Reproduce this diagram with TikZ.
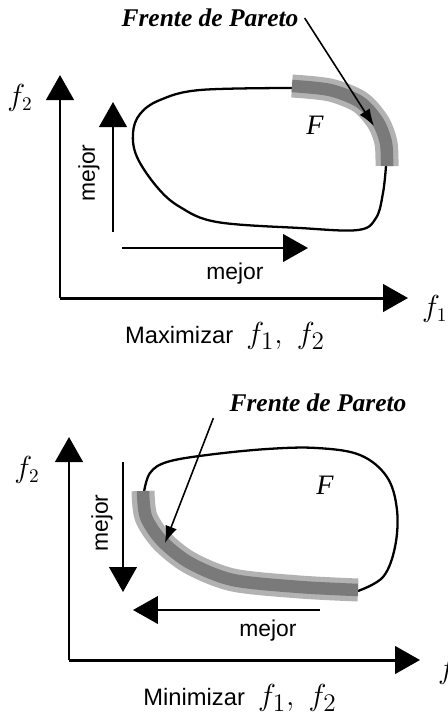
\documentclass[tikz,border=0pt]{standalone}
\usepackage{fontspec}
\setmainfont{Liberation Serif}
\setsansfont{Liberation Sans}
\usetikzlibrary{arrows.meta, positioning}
\definecolor{frontlight}{RGB}{178, 178, 178}
\definecolor{frontdark}{RGB}{122, 122, 122}

\begin{document}
\begin{tikzpicture}[x=0.02cm, y=-0.02cm,
    axis/.style={line width=1.7pt, -{Triangle[length=0.5cm, width=0.55cm]}},
    better/.style={line width=1.5pt, -{Triangle[length=0.5cm, width=0.55cm]}},
    region/.style={line width=1.3pt},
    pointer/.style={line width=0.9pt, -{Latex[length=0.34cm, width=0.24cm]}},
    frontout/.style={line width=0.46cm, frontlight},
    frontin/.style={line width=0.25cm, frontdark},
    axlabel/.style={font=\fontsize{16}{18}\selectfont},
    word/.style={font=\sffamily\fontsize{13}{15}\selectfont},
    title/.style={font=\bfseries\itshape\fontsize{14.5}{17}\selectfont}
]
    \useasboundingbox (0,0) rectangle (448,718);

    % Maximizar: axes
    \coordinate (o1) at (60,298);
    \coordinate (y1) at (60,75);
    \coordinate (x1) at (408,298);
    \draw[axis] (o1) -- (y1);
    \draw[axis] (o1) -- (x1);
    \node[axlabel] (f2top) at (20,98) {$f_2$};
    \node[axlabel, anchor=west] (f1top) at (416,309) {$f_1$};

    % Maximizar: directions
    \coordinate (up0) at (113,232);
    \coordinate (up1) at (113,102);
    \coordinate (rt0) at (122,248);
    \coordinate (rt1) at (308,248);
    \draw[better] (up0) -- (up1);
    \draw[better] (rt0) -- (rt1);
    \node[word, rotate=90] (mejorup) at (89,173) {mejor};
    \node[word] (mejorrt) at (235,274) {mejor};

    % Maximizar: region and front
    \draw[region] plot[smooth, tension=0.6] coordinates {(292,88) (200,90) (160,100)
        (140,114) (133,133) (137,157) (157,187) (180,207) (217,222) (300,228)
        (358,230) (376,218) (383,193) (386,166)};
    \draw[frontout] plot[smooth] coordinates {(292,86) (330,90) (360,102) (378,122)
        (386,143) (387,166)};
    \draw[frontin] plot[smooth] coordinates {(292,86) (330,90) (360,102) (378,122)
        (386,143) (387,166)};
    \node[axlabel, font=\itshape\fontsize{16}{18}\selectfont] (Ftop) at (315,125) {F};
    \node[title] (frentetop) at (210,18) {Frente de Pareto};
    \coordinate (hittop) at (374,126);
    \draw[pointer] (frentetop.east) -- (hittop);
    \node (maxi) at (225,336) {\sffamily\fontsize{13.5}{16}\selectfont
        Maximizar\ \ \fontsize{19}{21}\selectfont $f_1,\ f_2$};

    % Minimizar: axes
    \coordinate (o2) at (69,660);
    \coordinate (y2) at (69,437);
    \coordinate (x2) at (420,660);
    \draw[axis] (o2) -- (y2);
    \draw[axis] (o2) -- (x2);
    \node[axlabel] (f2bot) at (27,470) {$f_2$};
    \node[axlabel, anchor=west] (f1bot) at (432,671) {$f_1$};

    % Minimizar: directions
    \coordinate (dn0) at (123,462);
    \coordinate (dn1) at (123,592);
    \coordinate (lf0) at (320,610);
    \coordinate (lf1) at (133,610);
    \draw[better] (dn0) -- (dn1);
    \draw[better] (lf0) -- (lf1);
    \node[word, rotate=90] (mejordn) at (102,523) {mejor};
    \node[word] (mejorlf) at (268,631) {mejor};

    % Minimizar: region and front
    \draw[region] plot[smooth, tension=0.6] coordinates {(144,492) (150,473) (167,462)
        (207,455) (267,449) (317,448) (360,455) (387,477) (397,510) (395,547)
        (383,577) (358,591)};
    \draw[frontout] plot[smooth] coordinates {(143,491) (146,517) (162,541) (190,563)
        (233,580) (300,587) (358,590)};
    \draw[frontin] plot[smooth] coordinates {(143,491) (146,517) (162,541) (190,563)
        (233,580) (300,587) (358,590)};
    \node[axlabel, font=\itshape\fontsize{16}{18}\selectfont] (Fbot) at (325,485) {F};
    \node[title] (frentebot) at (318,403) {Frente de Pareto};
    \coordinate (hitbot) at (165,543);
    \draw[pointer] ([xshift=-0.2cm]frentebot.south west) -- (hitbot);
    \node (mini) at (240,698) {\sffamily\fontsize{13.5}{16}\selectfont
        Minimizar\ \ \fontsize{19}{21}\selectfont $f_1,\ f_2$};
\end{tikzpicture}
\end{document}
